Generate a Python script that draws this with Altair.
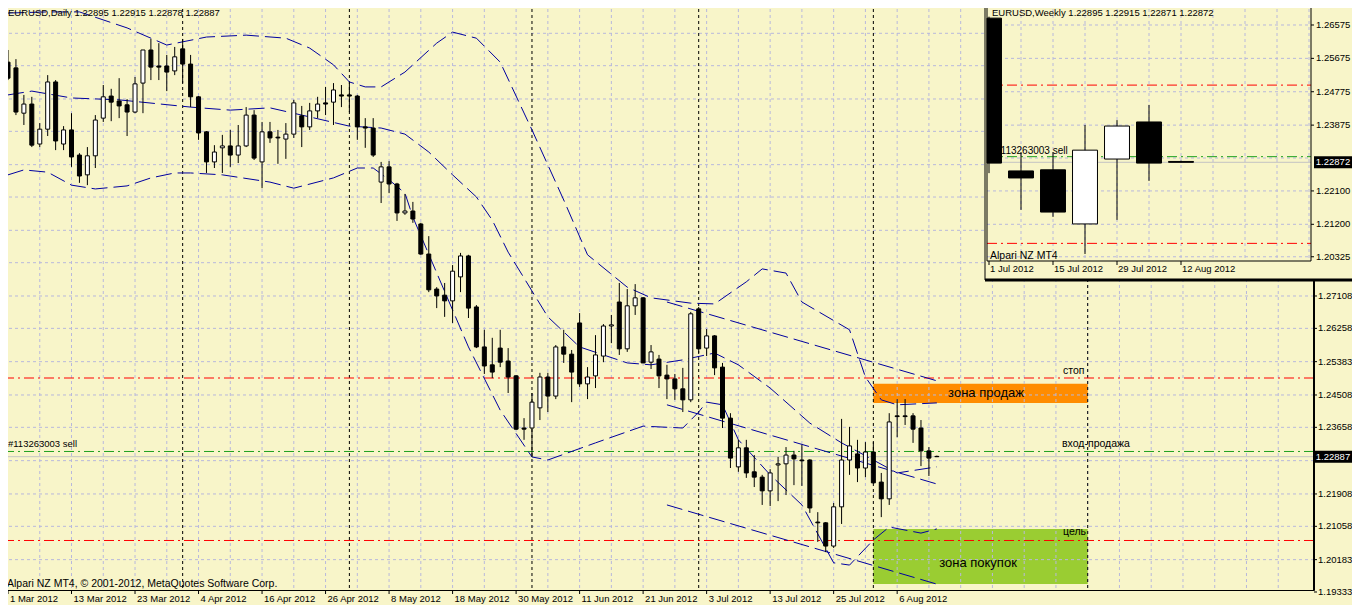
import altair as alt
import pandas as pd

# ---------------- colours / fonts ----------------
BG = "#F8F5C9"
GRID = "#B8B8DC"
NAVY = "#0000A0"
FONT = "Liberation Sans"

# ---------------- daily EURUSD ----------------
date_labels = ["1 Mar 2012", "13 Mar 2012", "23 Mar 2012", "4 Apr 2012", "16 Apr 2012",
               "26 Apr 2012", "8 May 2012", "18 May 2012", "30 May 2012", "11 Jun 2012",
               "21 Jun 2012", "3 Jul 2012", "13 Jul 2012", "25 Jul 2012", "6 Aug 2012"]
date_label_bars = [0, 8, 16, 24, 32, 40, 48, 56, 64, 72, 80, 88, 96, 104, 112]

d_open = [1.3325, 1.3310, 1.3191, 1.3215, 1.3110, 1.3149, 1.3273, 1.3110, 1.3147, 1.3081,
          1.3029, 1.3079, 1.3178, 1.3236, 1.3223, 1.3213, 1.3194, 1.3270, 1.3357, 1.3315,
          1.3315, 1.3302, 1.3360, 1.3320, 1.3234, 1.3142, 1.3063, 1.3100, 1.3105, 1.3081,
          1.3105, 1.3186, 1.3063, 1.3142, 1.3128, 1.3123, 1.3136, 1.3184, 1.3155, 1.3197,
          1.3218, 1.3220, 1.3239, 1.3239, 1.3236, 1.3155, 1.3152, 1.3010, 1.3050, 1.3005,
          1.2929, 1.2934, 1.2900, 1.2821, 1.2729, 1.2713, 1.2698, 1.2761, 1.2816, 1.2682,
          1.2577, 1.2530, 1.2574, 1.2540, 1.2501, 1.2364, 1.2364, 1.2417, 1.2498, 1.2448,
          1.2577, 1.2558, 1.2640, 1.2480, 1.2501, 1.2553, 1.2632, 1.2695, 1.2572, 1.2685,
          1.2706, 1.2537, 1.2545, 1.2503, 1.2493, 1.2467, 1.2438, 1.2677, 1.2574, 1.2606,
          1.2524, 1.2390, 1.2262, 1.2312, 1.2249, 1.2235, 1.2199, 1.2267, 1.2270, 1.2293,
          1.2280, 1.2280, 1.2117, 1.2115, 1.2054, 1.2157, 1.2280, 1.2296, 1.2259, 1.2301,
          1.2222, 1.2178, 1.2396, 1.2396, 1.2396, 1.2364, 1.2304, 1.22895]
d_high = [1.3357, 1.3333, 1.3239, 1.3234, 1.3165, 1.3291, 1.3278, 1.3157, 1.3191, 1.3086,
          1.3102, 1.3186, 1.3265, 1.3255, 1.3283, 1.3228, 1.3286, 1.3357, 1.3386, 1.3375,
          1.3344, 1.3365, 1.3386, 1.3344, 1.3236, 1.3144, 1.3107, 1.3134, 1.3147, 1.3160,
          1.3207, 1.3199, 1.3168, 1.3168, 1.3147, 1.3165, 1.3226, 1.3210, 1.3218, 1.3234,
          1.3260, 1.3270, 1.3265, 1.3273, 1.3239, 1.3178, 1.3178, 1.3063, 1.3065, 1.3008,
          1.2979, 1.2958, 1.2903, 1.2868, 1.2734, 1.2745, 1.2792, 1.2824, 1.2819, 1.2687,
          1.2622, 1.2601, 1.2622, 1.2574, 1.2503, 1.2390, 1.2456, 1.2509, 1.2509, 1.2582,
          1.2622, 1.2569, 1.2666, 1.2524, 1.2608, 1.2637, 1.2661, 1.2745, 1.2729, 1.2742,
          1.2708, 1.2582, 1.2556, 1.2530, 1.2506, 1.2522, 1.2669, 1.2682, 1.2624, 1.2608,
          1.2535, 1.2403, 1.2333, 1.2333, 1.2293, 1.2241, 1.2256, 1.2288, 1.2314, 1.2304,
          1.2320, 1.2282, 1.2143, 1.2117, 1.2167, 1.2388, 1.2367, 1.2333, 1.2327, 1.2327,
          1.2246, 1.2403, 1.2440, 1.2440, 1.2403, 1.2385, 1.2314, 1.22915]
d_low = [1.3278, 1.3186, 1.3160, 1.3102, 1.3102, 1.3131, 1.3094, 1.3094, 1.3050, 1.3008,
         1.3002, 1.3047, 1.3168, 1.3170, 1.3178, 1.3131, 1.3191, 1.3191, 1.3278, 1.3278,
         1.3249, 1.3291, 1.3270, 1.3207, 1.3121, 1.3034, 1.3047, 1.3034, 1.3050, 1.3060,
         1.3102, 1.3068, 1.2994, 1.3113, 1.3058, 1.3071, 1.3126, 1.3102, 1.3147, 1.3178,
         1.3186, 1.3160, 1.3207, 1.3194, 1.3121, 1.3100, 1.3076, 1.2955, 1.2981, 1.2908,
         1.2924, 1.2903, 1.2819, 1.2721, 1.2679, 1.2656, 1.2640, 1.2721, 1.2653, 1.2574,
         1.2506, 1.2495, 1.2524, 1.2456, 1.2359, 1.2333, 1.2288, 1.2385, 1.2406, 1.2440,
         1.2535, 1.2432, 1.2472, 1.2440, 1.2469, 1.2537, 1.2587, 1.2556, 1.2564, 1.2661,
         1.2535, 1.2519, 1.2469, 1.2440, 1.2438, 1.2406, 1.2432, 1.2561, 1.2553, 1.2503,
         1.2364, 1.2259, 1.2249, 1.2233, 1.2209, 1.2162, 1.2159, 1.2172, 1.2188, 1.2214,
         1.2212, 1.2141, 1.2065, 1.2038, 1.2049, 1.2112, 1.2241, 1.2222, 1.2235, 1.2218,
         1.2130, 1.2162, 1.2340, 1.2372, 1.2325, 1.2264, 1.2238, 1.22878]
d_close = [1.3283, 1.3194, 1.3215, 1.3107, 1.3149, 1.3273, 1.3118, 1.3147, 1.3076, 1.3026,
           1.3079, 1.3173, 1.3234, 1.3220, 1.3210, 1.3194, 1.3268, 1.3357, 1.3312, 1.3312,
           1.3299, 1.3339, 1.3320, 1.3234, 1.3139, 1.3063, 1.3089, 1.3105, 1.3081, 1.3105,
           1.3186, 1.3073, 1.3142, 1.3126, 1.3126, 1.3136, 1.3218, 1.3155, 1.3197, 1.3215,
           1.3215, 1.3252, 1.3236, 1.3236, 1.3155, 1.3152, 1.3081, 1.3050, 1.3005, 1.2929,
           1.2934, 1.2913, 1.2821, 1.2727, 1.2711, 1.2698, 1.2776, 1.2816, 1.2679, 1.2577,
           1.2527, 1.2511, 1.2537, 1.2498, 1.2361, 1.2361, 1.2432, 1.2498, 1.2448, 1.2577,
           1.2558, 1.2511, 1.2480, 1.2498, 1.2556, 1.2632, 1.2635, 1.2572, 1.2685, 1.2706,
           1.2535, 1.2564, 1.2501, 1.2493, 1.2467, 1.2438, 1.2664, 1.2572, 1.2606, 1.2522,
           1.2390, 1.2285, 1.2312, 1.2246, 1.2235, 1.2199, 1.2246, 1.2270, 1.2293, 1.2283,
           1.2278, 1.2154, 1.2115, 1.2054, 1.2157, 1.2280, 1.2317, 1.2259, 1.2301, 1.2220,
           1.2178, 1.2380, 1.2394, 1.2394, 1.2361, 1.2304, 1.2285, 1.22887]

# Bollinger bands (read at sampled bars)
bb_upper_bar = [0, 5, 9, 15, 20, 25, 30, 35, 38, 41, 43, 45, 47, 50, 54, 56, 59, 62, 66, 70,
                73, 78, 81, 86, 89, 93, 95, 98, 100, 106, 108, 110, 112, 117]
bb_upper = [1.3454, 1.3457, 1.3457, 1.3415, 1.3370, 1.3391, 1.3396, 1.3388, 1.3362, 1.3318,
            1.3273, 1.3260, 1.3260, 1.3299, 1.3375, 1.3404, 1.3388, 1.3325, 1.3147, 1.2963,
            1.2819, 1.2734, 1.2706, 1.2692, 1.2690, 1.2748, 1.2782, 1.2771, 1.2695, 1.2622,
            1.2498, 1.2438, 1.2425, 1.2430]
bb_mid_bar = [0, 3, 8, 14, 23, 28, 33, 37, 43, 47, 50, 53, 56, 59, 61, 63, 68, 72, 78, 81,
              85, 89, 92, 96, 101, 105, 109, 112, 117]
bb_mid = [1.3239, 1.3249, 1.3231, 1.3226, 1.3207, 1.3199, 1.3205, 1.3186, 1.3157, 1.3152,
          1.3136, 1.3089, 1.3029, 1.2971, 1.2910, 1.2826, 1.2656, 1.2577, 1.2535, 1.2530,
          1.2543, 1.2561, 1.2530, 1.2469, 1.2377, 1.2325, 1.2280, 1.2246, 1.2262]
bb_low_bar = [0, 2, 5, 8, 11, 15, 18, 21, 23, 27, 33, 36, 41, 44, 46, 48, 50, 51, 56, 58,
              62, 66, 68, 74, 80, 85, 87, 88, 90, 92, 96, 100, 104, 106, 109, 111, 115, 117]
bb_low = [1.3029, 1.3042, 1.3036, 1.3002, 1.2992, 1.3000, 1.3021, 1.3034, 1.3034, 1.3029,
          1.3010, 1.2994, 1.3021, 1.3047, 1.3047, 1.3016, 1.2981, 1.2918, 1.2674, 1.2577,
          1.2411, 1.2288, 1.2280, 1.2325, 1.2369, 1.2364, 1.2406, 1.2432, 1.2425, 1.2333,
          1.2241, 1.2162, 1.2010, 1.2004, 1.2070, 1.2104, 1.2088, 1.2099]

# regression channel
chan_bars = [83, 117]
chan_top = [1.2695, 1.2488]
chan_mid = [1.2425, 1.2217]
chan_bot = [1.2162, 1.1954]

month_sep_bars = [22, 43, 66, 87, 109]
object_vline_bar = 136

stop_price = 1.24954
entry_price = 1.23024
target_price = 1.20686
bid_daily = 1.22887

sell_zone = {"b0": 109, "b1": 136, "lo": 1.2430, "hi": 1.2480}
buy_zone = {"b0": 109, "b1": 136, "lo": 1.1954, "hi": 1.2099}

axis_prices = [1.27108, 1.26258, 1.25383, 1.24508, 1.23658, 1.21908, 1.21058, 1.20183, 1.19333]
grid_prices = [1.34008, 1.33158, 1.32283, 1.31433, 1.30558, 1.29708, 1.28833, 1.27983,
               1.27108, 1.26258, 1.25383, 1.24508, 1.23658, 1.22783, 1.21908, 1.21058, 1.20183]

# ---------------- weekly inset ----------------
w_labels = ["1 Jul 2012", "15 Jul 2012", "29 Jul 2012", "12 Aug 2012"]
w_label_idx = [0, 2, 4, 6]
w_open = [1.2676, 1.2264, 1.2267, 1.2121, 1.2296, 1.2396, 1.22895]
w_high = [1.2680, 1.2315, 1.2315, 1.2388, 1.2401, 1.2442, 1.22915]
w_low = [1.2258, 1.2159, 1.2140, 1.2040, 1.2132, 1.2237, 1.22871]
w_close = [1.2285, 1.2245, 1.2153, 1.2320, 1.2385, 1.2285, 1.22872]
w_axis_prices = [1.26575, 1.25675, 1.24775, 1.23875, 1.22100, 1.21200, 1.20325]
w_grid_prices = [1.26575, 1.25675, 1.24775, 1.23875, 1.22988, 1.22100, 1.21200, 1.20325]
bid_weekly = 1.22872

# ---------------- layout ----------------
W, H = 1311, 587
XS = alt.Scale(domain=[0, W / 8], nice=False, zero=False)
YS = alt.Scale(domain=[1.193855, 1.348042], nice=False, zero=False)
IXS = alt.Scale(domain=[-30.8125, -30.8125 + W / 32], nice=False, zero=False)
IYS = alt.Scale(domain=[1.113377, 1.271683], nice=False, zero=False)
INSET_LEFT_J = -0.0625   # left edge of the inset plot on the week scale
HALF_BODY_W = 0.39       # half body width of the weekly candles, in weeks
AX_FS = 9.5


def X(f):
    return alt.X(f, type="quantitative", scale=XS, axis=None)


def Y(f):
    return alt.Y(f, type="quantitative", scale=YS, axis=None)


def IX(f):
    return alt.X(f, type="quantitative", scale=IXS, axis=None)


def IY(f):
    return alt.Y(f, type="quantitative", scale=IYS, axis=None)


one = pd.DataFrame({"k": [0]})
daily = pd.DataFrame({"bar": list(range(len(d_open))), "o": d_open, "h": d_high,
                      "l": d_low, "c": d_close})

# ---- main chart layers ----
zones = pd.DataFrame([dict(name="sell", **sell_zone), dict(name="buy", **buy_zone)])
zone_layer = alt.Chart(zones).mark_rect().encode(
    x=X("b0"), x2="b1", y=Y("lo"), y2="hi",
    fill=alt.condition("datum.name == 'sell'", alt.value("#FF8C00"), alt.value("#9ACD32")))

hgrid = alt.Chart(pd.DataFrame({"p": grid_prices})).mark_rule(
    color=GRID, strokeDash=[3, 3], strokeWidth=1).encode(y=Y("p"))
vgrid = alt.Chart(pd.DataFrame({"bar": list(range(4, 164, 4))})).mark_rule(
    color=GRID, strokeDash=[3, 3], strokeWidth=1).encode(x=X("bar"))
seps = alt.Chart(pd.DataFrame({"bar": month_sep_bars + [object_vline_bar]})).mark_rule(
    color="black", strokeDash=[3, 3], strokeWidth=1).encode(x=X("bar"))

red_lines = alt.Chart(pd.DataFrame({"p": [stop_price, target_price]})).mark_rule(
    color="#FF0000", strokeDash=[10, 4, 2, 4], strokeWidth=1).encode(y=Y("p"))
green_line = alt.Chart(pd.DataFrame({"p": [entry_price]})).mark_rule(
    color="#1EA01E", strokeDash=[10, 4, 2, 4], strokeWidth=1).encode(y=Y("p"))
bid_line = alt.Chart(pd.DataFrame({"p": [bid_daily]})).mark_rule(
    color="#C4C4C4", strokeWidth=1).encode(y=Y("p"))

bb = pd.concat([
    pd.DataFrame({"band": "upper", "bar": bb_upper_bar, "p": bb_upper}),
    pd.DataFrame({"band": "mid", "bar": bb_mid_bar, "p": bb_mid}),
    pd.DataFrame({"band": "lower", "bar": bb_low_bar, "p": bb_low}),
])
bb_layer = alt.Chart(bb).mark_line(color=NAVY, strokeWidth=1, strokeDash=[16, 6]).encode(
    x=X("bar"), y=Y("p"), detail="band:N")

chan = pd.concat([
    pd.DataFrame({"line": "top", "bar": chan_bars, "p": chan_top}),
    pd.DataFrame({"line": "mid", "bar": chan_bars, "p": chan_mid}),
    pd.DataFrame({"line": "bot", "bar": chan_bars, "p": chan_bot}),
])
chan_layer = alt.Chart(chan).mark_line(color=NAVY, strokeWidth=1, strokeDash=[16, 6]).encode(
    x=X("bar"), y=Y("p"), detail="line:N")

wicks = alt.Chart(daily).mark_rule(color="black", strokeWidth=1).encode(
    x=X("bar"), y=Y("l"), y2="h")
bodies = alt.Chart(daily).mark_bar(width=4, stroke="black", strokeWidth=1).encode(
    x=X("bar"), y=Y("o"), y2="c",
    fill=alt.condition("datum.c < datum.o", alt.value("black"), alt.value("white")))

# price axis (right) and date axis (bottom), placed through the scales
yax = pd.DataFrame({"p": axis_prices, "t": [f"{v:.5f}" for v in axis_prices]})
y_ticks = alt.Chart(yax).mark_rule(color="black").encode(
    x=alt.value(W), x2=alt.value(W + 3), y=Y("p"))
y_labels = alt.Chart(yax).mark_text(align="left", baseline="middle", font=FONT,
                                    fontSize=AX_FS, color="black").encode(
    x=alt.value(W + 4), y=Y("p"), text="t:N")
xax = pd.DataFrame({"bar": date_label_bars, "t": date_labels})
x_ticks = alt.Chart(xax).mark_rule(color="black").encode(
    x=X("bar"), y=alt.value(H), y2=alt.value(H + 4))
x_labels = alt.Chart(xax).mark_text(align="left", baseline="middle", dx=2, font=FONT,
                                    fontSize=AX_FS, color="black").encode(
    x=X("bar"), y=alt.value(H + 9), text="t:N")
right_edge = alt.Chart(one).mark_rule(color="black", strokeWidth=2).encode(
    x=alt.value(W), y=alt.value(0), y2=alt.value(H))


def price_text(txt, price, xpx, dy, size=10, align="left", baseline="bottom", yscale=Y):
    return alt.Chart(pd.DataFrame({"p": [price]})).mark_text(
        text=txt, align=align, baseline=baseline, dy=dy, font=FONT, fontSize=size,
        color="black").encode(x=alt.value(xpx), y=yscale("p"))


def px_text(txt, xpx, ypx, size=10, align="left", color="black"):
    return alt.Chart(one).mark_text(
        text=txt, align=align, baseline="middle", font=FONT, fontSize=size,
        color=color).encode(x=alt.value(xpx), y=alt.value(ypx))


main_texts = [
    price_text("#113263003 sell", entry_price, 5, -2, size=9.5),
    price_text("стоп", stop_price, 1060, -2, size=10.5),
    price_text("вход-продажа", entry_price, 1059, -2, size=10.5),
    price_text("цель", target_price, 1060, -3, size=10.5),
    price_text("зона продаж", (sell_zone["lo"] + sell_zone["hi"]) / 2, 983, 0, size=13,
               align="center", baseline="middle"),
    price_text("зона покупок", (buy_zone["lo"] + buy_zone["hi"]) / 2, 975, 6, size=13,
               align="center", baseline="middle"),
    px_text("EURUSD,Daily  1.22895 1.22915 1.22878 1.22887", 5, 10, size=9.5),
    px_text("Alpari NZ MT4, © 2001-2012, MetaQuotes Software Corp.", 4, 581, size=10.5),
]

bid_df = pd.DataFrame({"p": [bid_daily]})
main_box = alt.Chart(bid_df).mark_tick(orient="horizontal", size=38, thickness=12,
                                       color="black", opacity=1).encode(
    x=alt.value(W + 19), y=Y("p"))
main_box_txt = alt.Chart(bid_df).mark_text(color="white", align="center", baseline="middle",
                                           font=FONT, fontSize=AX_FS).encode(
    x=alt.value(W + 19), y=Y("p"), text=alt.Text("p:Q", format=".5f"))

main = alt.layer(zone_layer, hgrid, vgrid, seps, red_lines, green_line, bid_line,
                 bb_layer, chan_layer, wicks, bodies, right_edge, y_ticks, y_labels,
                 x_ticks, x_labels, *main_texts, main_box, main_box_txt)

# ---- weekly inset layers ----
weekly = pd.DataFrame({"j": list(range(len(w_open))), "o": w_open, "h": w_high,
                       "l": w_low, "c": w_close})
weekly["x0"] = (weekly["j"] - HALF_BODY_W).clip(lower=INSET_LEFT_J)
weekly["x1"] = weekly["j"] + HALF_BODY_W

IL, IR, IB = 984, W - 3, 258     # inset plot frame (pixels inside the view)
win_bg = alt.Chart(one).mark_rect(fill=BG).encode(
    x=alt.value(IL - 2), x2=alt.value(W + 40), y=alt.value(-3), y2=alt.value(277))
win_left = alt.Chart(one).mark_rule(color="black", strokeWidth=1).encode(
    x=alt.value(IL - 2), y=alt.value(-3), y2=alt.value(277))
win_bottom = alt.Chart(one).mark_rule(color="black", strokeWidth=3).encode(
    x=alt.value(IL - 2), x2=alt.value(W + 40), y=alt.value(277))
i_hgrid = alt.Chart(pd.DataFrame({"p": w_grid_prices})).mark_rule(
    color=GRID, strokeDash=[3, 3]).encode(x=alt.value(IL), x2=alt.value(IR), y=IY("p"))
i_vgrid = alt.Chart(pd.DataFrame({"j": list(range(1, 11))})).mark_rule(
    color=GRID, strokeDash=[3, 3]).encode(x=IX("j"), y=alt.value(0), y2=alt.value(IB))
i_red = alt.Chart(pd.DataFrame({"p": [stop_price, target_price]})).mark_rule(
    color="#FF0000", strokeDash=[10, 4, 2, 4]).encode(
    x=alt.value(IL), x2=alt.value(IR), y=IY("p"))
i_green = alt.Chart(pd.DataFrame({"p": [entry_price]})).mark_rule(
    color="#1EA01E", strokeDash=[10, 4, 2, 4]).encode(
    x=alt.value(IL), x2=alt.value(IR), y=IY("p"))
i_bid = alt.Chart(pd.DataFrame({"p": [bid_weekly]})).mark_rule(color="#C4C4C4").encode(
    x=alt.value(IL), x2=alt.value(IR), y=IY("p"))
i_sell_txt = price_text("#113263003 sell", entry_price, 992, -1, size=10, yscale=IY)
i_wicks = alt.Chart(weekly).mark_rule(color="black").encode(x=IX("j"), y=IY("l"), y2="h")
i_bodies = alt.Chart(weekly).mark_rect(stroke="black", strokeWidth=1).encode(
    x=IX("x0"), x2="x1", y=IY("o"), y2="c",
    fill=alt.condition("datum.c < datum.o", alt.value("black"), alt.value("white")))
i_frame = alt.Chart(one).mark_rect(fillOpacity=0, stroke="black", strokeWidth=1).encode(
    x=alt.value(IL), x2=alt.value(IR), y=alt.value(0), y2=alt.value(IB))
i_header = px_text("EURUSD,Weekly  1.22895 1.22915 1.22871 1.22872", 989, 10, size=9.5)
i_water = px_text("Alpari NZ MT4", 987, 253, size=10.5)

w_ax = pd.DataFrame({"p": w_axis_prices, "t": [f"{v:.5f}" for v in w_axis_prices]})
i_ax_txt = alt.Chart(w_ax).mark_text(align="left", baseline="middle", font=FONT,
                                     fontSize=AX_FS, color="black").encode(
    x=alt.value(IR + 5), y=IY("p"), text="t:N")
i_ax_tick = alt.Chart(w_ax).mark_rule(color="black").encode(
    x=alt.value(IR), x2=alt.value(IR + 3), y=IY("p"))
w_dt = pd.DataFrame({"j": w_label_idx, "t": w_labels})
i_dt_txt = alt.Chart(w_dt).mark_text(align="left", baseline="middle", dx=1, font=FONT,
                                     fontSize=AX_FS, color="black").encode(
    x=IX("j"), y=alt.value(IB + 8), text="t:N")
i_dt_tick = alt.Chart(w_dt).mark_rule(color="black").encode(
    x=IX("j"), y=alt.value(IB), y2=alt.value(IB + 4))

wbid_df = pd.DataFrame({"p": [bid_weekly]})
i_box = alt.Chart(wbid_df).mark_tick(orient="horizontal", size=38, thickness=12,
                                     color="black", opacity=1).encode(
    x=alt.value(W + 19), y=IY("p"))
i_box_txt = alt.Chart(wbid_df).mark_text(color="white", align="center", baseline="middle",
                                         font=FONT, fontSize=AX_FS).encode(
    x=alt.value(W + 19), y=IY("p"), text=alt.Text("p:Q", format=".5f"))

inset = alt.layer(win_bg, win_left, win_bottom, i_hgrid, i_vgrid, i_red, i_green, i_bid,
                  i_sell_txt, i_wicks, i_bodies, i_frame, i_header, i_water, i_ax_txt,
                  i_ax_tick, i_dt_txt, i_dt_tick, i_box, i_box_txt)

chart = alt.layer(main, inset).resolve_scale(x="independent", y="independent").properties(
    width=W, height=H,
    autosize=alt.AutoSizeParams(type="none"),
    padding={"left": -5, "top": -5, "right": 38, "bottom": 15},
    background=BG,
).configure_view(stroke="black", strokeWidth=1, fill=BG)

chart.save("out.html", embed_options={"renderer": "svg", "actions": False})
